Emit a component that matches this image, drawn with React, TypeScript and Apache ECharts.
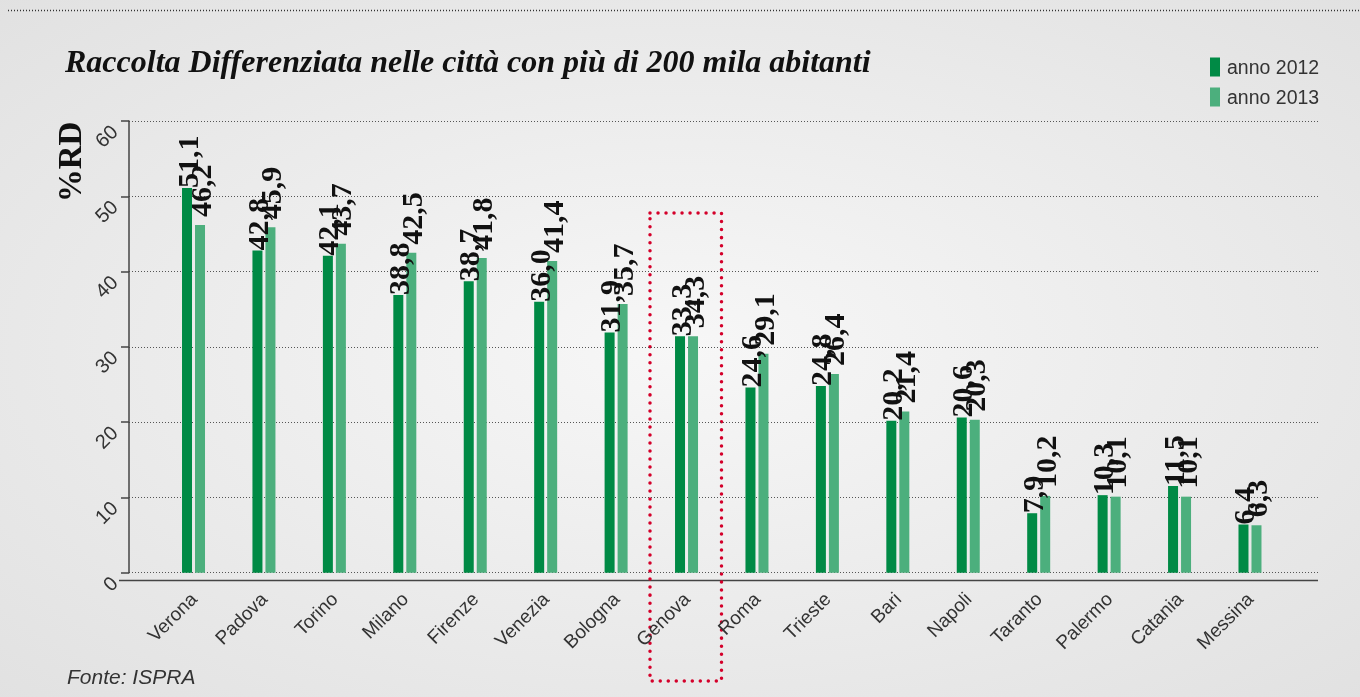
import React, { useEffect, useRef } from "react";
import * as echarts from "echarts";

const categories = ["Verona", "Padova", "Torino", "Milano", "Firenze", "Venezia", "Bologna", "Genova", "Roma", "Trieste", "Bari", "Napoli", "Taranto", "Palermo", "Catania", "Messina"];
const values2012 = [51.1, 42.8, 42.1, 36.9, 38.7, 36.0, 31.9, 31.4, 24.6, 24.8, 20.2, 20.6, 7.9, 10.3, 11.5, 6.4];
const values2013 = [46.2, 45.9, 43.7, 42.5, 41.8, 41.4, 35.7, 31.4, 29.1, 26.4, 21.4, 20.3, 10.2, 10.1, 10.1, 6.3];
const labels2012 = ["51,1", "42,8", "42,1", "38,8", "38,7", "36,0", "31,9", "33,3", "24,6", "24,8", "20,2", "20,6", "7,9", "10,3", "11,5", "6,4"];
const labels2013 = ["46,2", "45,9", "43,7", "42,5", "41,8", "41,4", "35,7", "34,3", "29,1", "26,4", "21,4", "20,3", "10,2", "10,1", "10,1", "6,3"];
const seriesNames = ["anno 2012", "anno 2013"];
const yMin = 0;
const yMax = 60;
const yInterval = 10;
const titleText = "Raccolta Differenziata nelle città con più di 200 mila abitanti";
const yName = "%RD";
const sourceText = "Fonte: ISPRA";

const DARK = "#008a45";
const LIGHT = "#4caf7d";
const SANS = "Liberation Sans, Arial, sans-serif";
const SERIF = "Liberation Serif, Times New Roman, serif";

export default function App() {
  const ref = useRef<HTMLDivElement>(null);
  useEffect(() => {
    if (!ref.current) return;
    const chart = echarts.init(ref.current, undefined, { renderer: "svg" });
    const labelStyle = (labels: string[], dx: number) => ({
      show: true,
      position: "top",
      distance: 4,
      rotate: 90,
      align: "left",
      verticalAlign: "middle",
      offset: [dx, 0],
      formatter: (p: any) => labels[p.dataIndex],
      fontFamily: SERIF,
      fontWeight: "bold",
      fontSize: 30,
      color: "#111",
    });
    chart.setOption({
      animation: false,
      backgroundColor: new echarts.graphic.RadialGradient(0.5, 0.5, 0.75, [
        { offset: 0, color: "#f7f7f7" },
        { offset: 1, color: "#e0e0e0" },
      ]),
      title: {
        text: titleText,
        left: 65,
        top: 45,
        padding: 0,
        textStyle: { fontFamily: SERIF, fontStyle: "italic", fontWeight: "bold", fontSize: 32, color: "#111" },
      },
      legend: {
        orient: "vertical",
        left: 1210,
        top: 57,
        padding: 0,
        itemWidth: 10,
        itemHeight: 19,
        itemGap: 10,
        icon: "rect",
        data: seriesNames,
        textStyle: { fontFamily: SANS, fontSize: 19.5, color: "#333", padding: [0, 0, 0, 2] },
      },
      grid: [
        { left: 129, right: 40, top: 121, bottom: 124.3 },
        { left: 158.3, right: 74.8, top: 121, bottom: 124.3 },
      ],
      xAxis: [
        { type: "category", gridIndex: 0, data: [], show: false },
        {
          type: "category",
          gridIndex: 1,
          data: categories,
          axisLine: { show: false },
          axisTick: { show: false },
          axisLabel: { rotate: 45, margin: 23, fontFamily: SANS, fontSize: 19, color: "#333" },
        },
      ],
      yAxis: [
        {
          type: "value",
          gridIndex: 0,
          min: yMin,
          max: yMax,
          interval: yInterval,
          axisLine: { show: true, lineStyle: { color: "#444", width: 1.5 } },
          axisTick: { show: true, length: 8, lineStyle: { color: "#444", width: 1.5 } },
          splitLine: { show: true, lineStyle: { color: "#555", width: 1, type: [1, 2] } },
          axisLabel: { rotate: 45, margin: 22, align: "right", verticalAlign: "top", fontFamily: SANS, fontSize: 20, color: "#333" },
        },
        { type: "value", gridIndex: 1, min: yMin, max: yMax, interval: yInterval, show: false, splitLine: { show: false } },
      ],
      series: [
        {
          type: "bar",
          name: seriesNames[0],
          xAxisIndex: 1,
          yAxisIndex: 1,
          data: values2012,
          barWidth: 10,
          barGap: "30%",
          itemStyle: { color: DARK },
          label: labelStyle(labels2012, -4),
        },
        {
          type: "bar",
          name: seriesNames[1],
          xAxisIndex: 1,
          yAxisIndex: 1,
          data: values2013,
          barWidth: 10,
          barGap: "30%",
          itemStyle: { color: LIGHT },
          label: labelStyle(labels2013, 4),
        },
      ],
      graphic: [
        { type: "line", shape: { x1: 8, y1: 10.5, x2: 1360, y2: 10.5 }, style: { stroke: "#333", lineWidth: 1.5, lineDash: [1, 2] }, silent: true },
        { type: "line", shape: { x1: 119, y1: 580.5, x2: 1318, y2: 580.5 }, style: { stroke: "#444", lineWidth: 1.5 }, silent: true },
        {
          type: "rect",
          shape: { x: 650, y: 213, width: 71.5, height: 468 },
          style: { fill: "none", stroke: "#d4002a", lineWidth: 3.5, lineDash: [0.01, 8], lineCap: "round" },
          silent: true,
        },
        {
          type: "text",
          x: 70,
          y: 162,
          rotation: Math.PI / 2,
          style: { text: yName, fontFamily: SERIF, fontWeight: "bold", fontSize: 33, fill: "#111", align: "center", verticalAlign: "middle" },
          silent: true,
        },
        {
          type: "text",
          x: 67,
          y: 676,
          style: { text: sourceText, fontFamily: SANS, fontStyle: "italic", fontSize: 21, fill: "#333", align: "left", verticalAlign: "middle" },
          silent: true,
        },
      ],
    });
    return () => chart.dispose();
  }, []);
  return <div ref={ref} style={{ position: "fixed", left: 0, top: 0, width: 1360, height: 697 }} />;
}
